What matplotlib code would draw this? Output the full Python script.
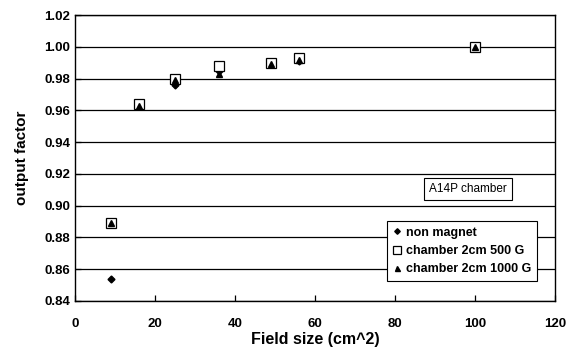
import numpy as np
import matplotlib.pyplot as plt

plt.rcParams['font.family'] = ['Liberation Sans', 'DejaVu Sans']

# field size (cm^2)
field_size = [9, 16, 25, 36, 49, 56, 100]

# output factor
non_magnet = [0.854, 0.963, 0.976, 0.985, 0.989, 0.991, 1.000]
chamber_500 = [0.889, 0.964, 0.980, 0.988, 0.990, 0.993, 1.000]
chamber_1000 = [0.889, 0.963, 0.979, 0.983, 0.989, 0.992, 1.000]

fig = plt.figure(figsize=(5.66, 3.47), dpi=100)
ax = fig.add_axes([0.133, 0.133, 0.848, 0.823])

ax.plot(field_size, non_magnet, linestyle='none', marker='D', markersize=3.5,
        color='black', label='non magnet')
ax.plot(field_size, chamber_500, linestyle='none', marker='s', markersize=6.5,
        markerfacecolor='white', markeredgecolor='black', markeredgewidth=0.9,
        label='chamber 2cm 500 G')
ax.plot(field_size, chamber_1000, linestyle='none', marker='^', markersize=4.5,
        color='black', label='chamber 2cm 1000 G')

ax.set_xlim(0, 120)
ax.set_ylim(0.84, 1.02)
ax.set_xticks(np.arange(0, 121, 20))
ax.set_yticks(np.arange(0.84, 1.021, 0.02))
ax.set_yticklabels([f'{v:.2f}' for v in np.arange(0.84, 1.021, 0.02)])
ax.grid(True, axis='y', color='black', linewidth=0.9)
ax.set_axisbelow(True)
ax.tick_params(direction='in', length=4, width=0.9, labelsize=9.5)
ax.tick_params(axis='x', pad=12)
for lab in ax.get_xticklabels() + ax.get_yticklabels():
    lab.set_fontweight('bold')
for s in ax.spines.values():
    s.set_linewidth(1.0)

ax.set_xlabel('Field size (cm^2)', fontsize=11.5, fontweight='bold', labelpad=2)
ax.set_ylabel('output factor', fontsize=11, fontweight='bold', labelpad=11)

ax.text(98.2, 0.9105, 'A14P chamber', fontsize=8.5, ha='center', va='center',
        bbox=dict(facecolor='white', edgecolor='black', linewidth=0.8, pad=3.5))

leg = ax.legend(loc='lower right', bbox_to_anchor=(0.975, 0.048),
                fancybox=False, framealpha=1, edgecolor='black',
                prop={'weight': 'bold', 'size': 9}, handlelength=0.8,
                handletextpad=0.3, borderpad=0.45, labelspacing=0.5,
                markerscale=0.8)
leg.get_frame().set_linewidth(0.8)

plt.savefig('out.png', dpi=100)
